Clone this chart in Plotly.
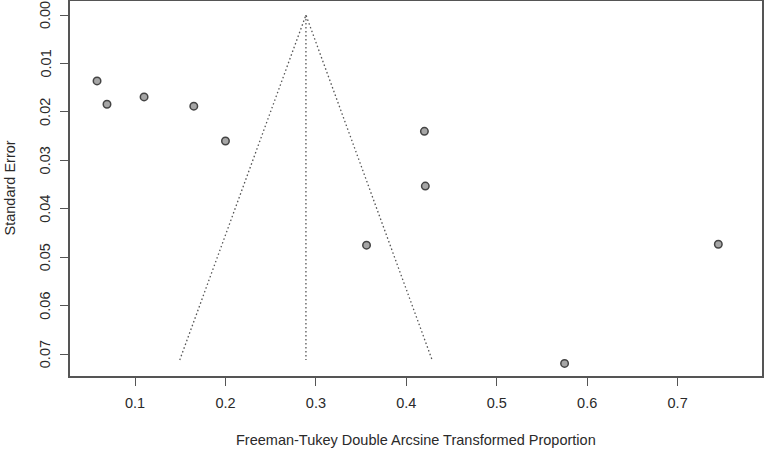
import plotly.graph_objects as go

# study estimates (transformed proportion) and their standard errors
effect = [0.058, 0.069, 0.110, 0.165, 0.200, 0.420, 0.421, 0.356, 0.745, 0.575]
std_err = [0.0136, 0.0184, 0.0169, 0.0188, 0.0260, 0.0240, 0.0353, 0.0475, 0.0473, 0.0719]

# pooled estimate and funnel limits
pooled = 0.289
se_max = 0.0712
funnel_x = [pooled - 1.96 * se_max, pooled, pooled + 1.96 * se_max]
funnel_y = [se_max, 0.0, se_max]

x_ticks = [0.1, 0.2, 0.3, 0.4, 0.5, 0.6, 0.7]
y_ticks = [0.0, 0.01, 0.02, 0.03, 0.04, 0.05, 0.06, 0.07]

line_color = "#555555"
font = dict(family="Liberation Sans, Arial, sans-serif", size=14.5, color="#2a2a2a")

fig = go.Figure()

fig.add_trace(
    go.Scatter(
        x=funnel_x,
        y=funnel_y,
        mode="lines",
        line=dict(color="#555555", width=1.3, dash="1.5px,2.5px"),
        showlegend=False,
        hoverinfo="skip",
    )
)
fig.add_trace(
    go.Scatter(
        x=[pooled, pooled],
        y=[0.0, se_max],
        mode="lines",
        line=dict(color="#555555", width=1.3, dash="1.5px,2.5px"),
        showlegend=False,
        hoverinfo="skip",
    )
)
fig.add_trace(
    go.Scatter(
        x=effect,
        y=std_err,
        mode="markers",
        marker=dict(size=7.5, color="#a6a6a6", line=dict(color="#444444", width=1.5)),
        showlegend=False,
    )
)

fig.update_xaxes(
    range=[0.0281, 0.7933],
    tickvals=x_ticks,
    ticktext=[f"{v:.1f}" for v in x_ticks],
    ticks="outside",
    ticklen=8,
    tickwidth=1.2,
    tickcolor=line_color,
    ticklabelstandoff=5,
    showline=True,
    linecolor=line_color,
    linewidth=1.5,
    mirror=True,
    showgrid=False,
    zeroline=False,
    automargin=False,
    ticklabeloverflow="allow",
    tickfont=font,
)
# y tick labels are drawn as rotated annotations below (plotly nudges the top one off the page)
fig.update_yaxes(
    range=[0.0745, -0.0029],
    tickvals=y_ticks,
    showticklabels=False,
    ticks="outside",
    ticklen=8,
    tickwidth=1.2,
    tickcolor=line_color,
    showline=True,
    linecolor=line_color,
    linewidth=1.5,
    mirror=True,
    showgrid=False,
    zeroline=False,
    automargin=False,
)

margin_l, margin_r, margin_t, margin_b = 70, 16, 1, 82
plot_w = 778 - margin_l - margin_r
plot_h = 458 - margin_t - margin_b

for v in y_ticks:
    fig.add_annotation(
        text=f"{v:.2f}",
        xref="paper",
        yref="y",
        x=-(margin_l - 45) / plot_w,
        y=v,
        xanchor="center",
        yanchor="middle",
        textangle=-90,
        showarrow=False,
        font=font,
    )

fig.add_annotation(
    text="Freeman-Tukey Double Arcsine Transformed Proportion",
    xref="paper",
    yref="paper",
    x=0.5,
    y=-(440 - 376) / plot_h,
    xanchor="center",
    yanchor="middle",
    showarrow=False,
    font=font,
)
fig.add_annotation(
    text="Standard Error",
    xref="paper",
    yref="paper",
    x=-(margin_l - 9) / plot_w,
    y=0.5,
    xanchor="center",
    yanchor="middle",
    textangle=-90,
    showarrow=False,
    font=font,
)

fig.update_layout(
    width=778,
    height=458,
    margin=dict(l=margin_l, r=margin_r, t=margin_t, b=margin_b),
    plot_bgcolor="white",
    paper_bgcolor="white",
    font=font,
)

# drop the page's default 8px body margin so the figure sits at the window corner
fig.write_html(
    "out.html",
    config={"displayModeBar": False},
    post_script="document.body.style.margin = '0';",
)
